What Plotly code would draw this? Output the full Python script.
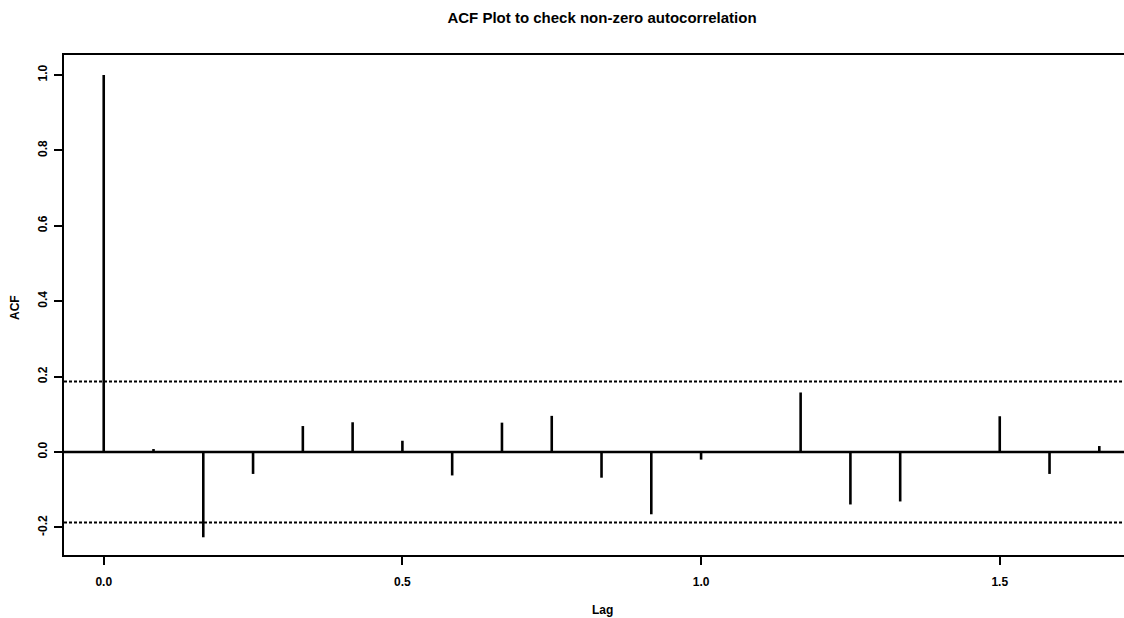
import plotly.graph_objects as go

# ---- data ----
lags = [0, 1/12, 2/12, 3/12, 4/12, 5/12, 6/12, 7/12, 8/12, 9/12, 10/12, 11/12,
        12/12, 13/12, 14/12, 15/12, 16/12, 17/12, 18/12, 19/12, 20/12]
acf = [1.0, 0.008, -0.226, -0.058, 0.069, 0.079, 0.030, -0.062, 0.078, 0.096, -0.068, -0.165,
       -0.020, 0.002, 0.158, -0.139, -0.131, 0.001, 0.095, -0.058, 0.016]
ci = 0.187
x_ticks = [0.0, 0.5, 1.0, 1.5]
x_tick_labels = ["0.0", "0.5", "1.0", "1.5"]
y_ticks = [-0.2, 0.0, 0.2, 0.4, 0.6, 0.8, 1.0]
y_tick_labels = ["-0.2", "0.0", "0.2", "0.4", "0.6", "0.8", "1.0"]
title = "ACF Plot to check non-zero autocorrelation"
x_title = "Lag"
y_title = "ACF"

# build spike segments
xs, ys = [], []
for l, v in zip(lags, acf):
    xs += [l, l, None]
    ys += [0, v, None]

FONT = "Liberation Sans"

fig = go.Figure()
fig.add_trace(go.Scatter(x=xs, y=ys, mode="lines",
                         line=dict(color="black", width=2.6),
                         hoverinfo="skip", showlegend=False))

shapes = [
    dict(type="line", xref="paper", yref="y", x0=0, x1=1, y0=0, y1=0,
         line=dict(color="black", width=2.4)),
    dict(type="line", xref="paper", yref="y", x0=0, x1=1, y0=ci, y1=ci,
         line=dict(color="black", width=2, dash="3px,2px")),
    dict(type="line", xref="paper", yref="y", x0=0, x1=1, y0=-ci, y1=-ci,
         line=dict(color="black", width=2, dash="3px,2px")),
]

L, T, B = 64, 55, 63
PW = 1124 - L
PH = 618 - T - B

fig.update_layout(
    width=1124, height=618,
    paper_bgcolor="white", plot_bgcolor="white",
    margin=dict(l=L, r=0, t=T, b=B, autoexpand=False),
    shapes=shapes,
    title=dict(text="<b>" + title + "</b>", x=602/1124, xanchor="center",
               y=1 - 18/618, yanchor="middle", yref="container",
               font=dict(family=FONT, size=15, color="black")),
    xaxis=dict(range=[-0.0665, 1.708], tickvals=x_ticks,
               ticktext=["<b>%s</b>" % t for t in x_tick_labels],
               showgrid=False, zeroline=False, automargin=False,
               showline=True, linecolor="black", linewidth=2.4, mirror=True,
               ticks="outside", ticklen=8, tickwidth=2, tickcolor="black",
               ticklabelstandoff=6,
               tickfont=dict(family=FONT, size=12, color="black")),
    yaxis=dict(range=[-0.273, 1.053], tickvals=y_ticks,
               ticktext=["<b>%s</b>" % t for t in y_tick_labels],
               showgrid=False, zeroline=False, automargin=False,
               showline=True, linecolor="black", linewidth=2.4, mirror=False,
               ticks="outside", ticklen=8, tickwidth=2, tickcolor="black",
               tickangle=-90, ticklabelstandoff=2,
               tickfont=dict(family=FONT, size=12, color="black")),
    annotations=[
        dict(text="<b>" + x_title + "</b>", xref="paper", yref="paper",
             x=(602 - L) / PW, y=0, yshift=-(610 - (618 - B)),
             xanchor="center", yanchor="middle", showarrow=False,
             font=dict(family=FONT, size=12, color="black")),
        dict(text="<b>" + y_title + "</b>", xref="paper", yref="paper",
             x=0, xshift=-(L - 15), y=(618 - B - 308) / PH, textangle=-90,
             xanchor="center", yanchor="middle", showarrow=False,
             font=dict(family=FONT, size=12, color="black")),
    ],
)

fig.write_html("out.html",
               config={"displayModeBar": False},
               post_script="document.body.style.margin='0';"
                           "document.body.style.overflow='hidden';")
